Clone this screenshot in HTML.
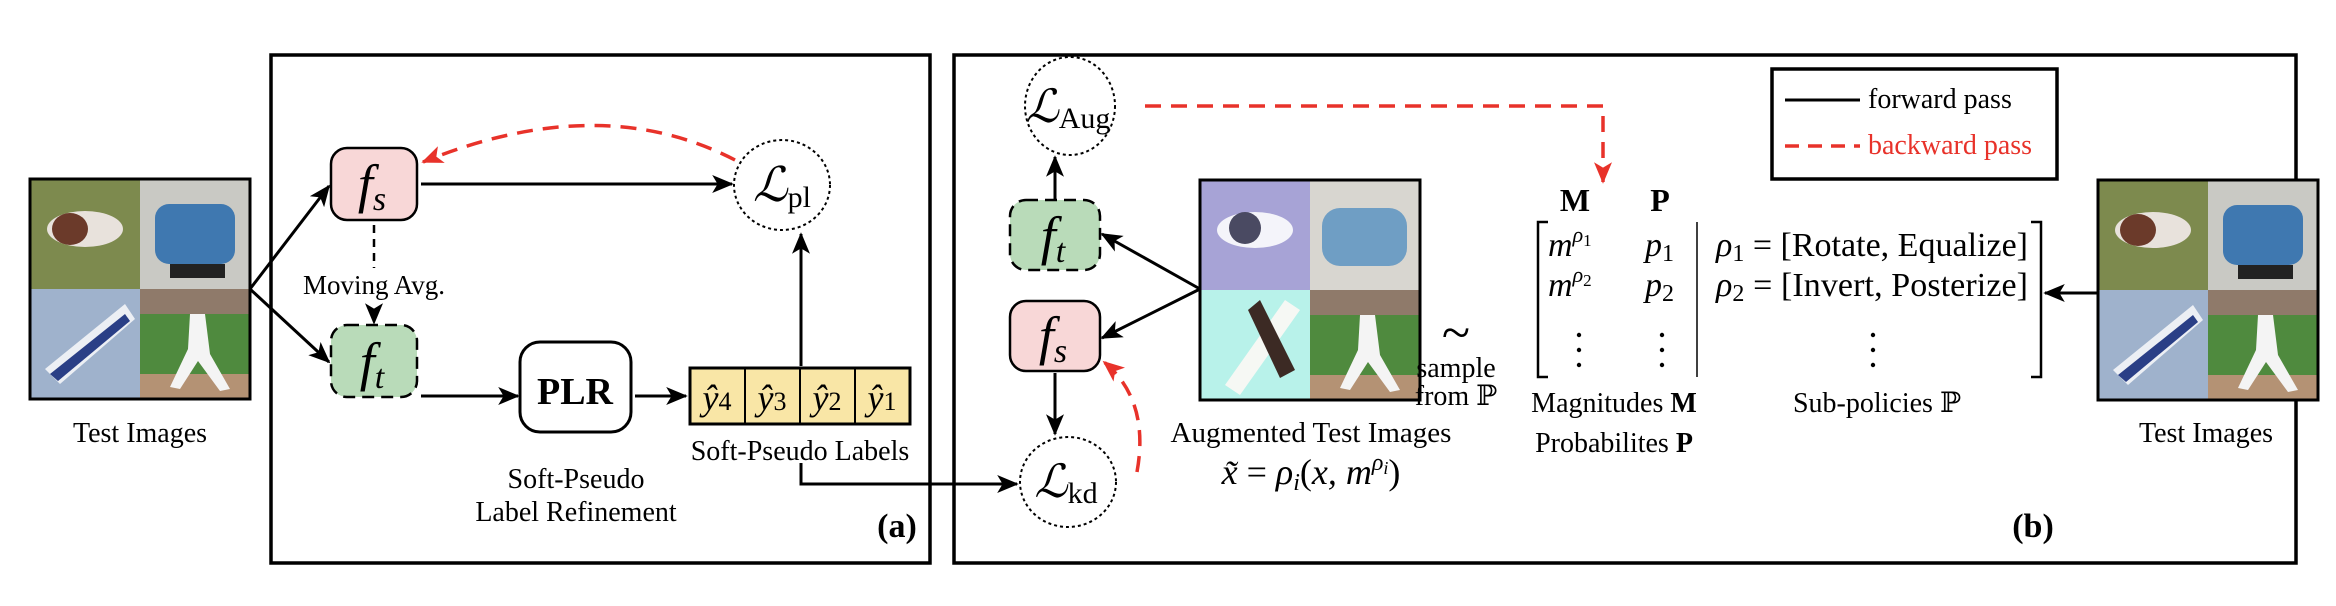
<!DOCTYPE html>
<html><head><meta charset="utf-8"><style>
html,body{margin:0;padding:0;background:#fff}
svg{display:block}
text{font-family:"Liberation Serif","DejaVu Serif",serif;fill:#000}
.it{font-style:italic}
</style></head><body>
<svg width="2336" height="606" viewBox="0 0 2336 606" xmlns="http://www.w3.org/2000/svg">
<defs>
<marker id="a" viewBox="0 0 12 10" refX="11" refY="5" markerWidth="22" markerHeight="18" orient="auto" markerUnits="userSpaceOnUse"><path d="M0,0 L12,5 L0,10 L3,5 Z" fill="#000"/></marker>
<marker id="ar" viewBox="0 0 12 10" refX="11" refY="5" markerWidth="22" markerHeight="18" orient="auto" markerUnits="userSpaceOnUse"><path d="M0,0 L12,5 L0,10 L3,5 Z" fill="#e8322a"/></marker>
<g id="photo">
<rect x="0" y="0" width="110" height="110" fill="#7d8a4e"/>
<ellipse cx="55" cy="50" rx="38" ry="18" fill="#e8e2dc"/><ellipse cx="40" cy="50" rx="18" ry="16" fill="#6b3a2a"/>
<rect x="110" y="0" width="110" height="110" fill="#c9c9c4"/>
<rect x="125" y="25" width="80" height="60" rx="14" fill="#3f78b0"/><rect x="140" y="85" width="55" height="14" fill="#222"/>
<rect x="0" y="110" width="110" height="110" fill="#9fb2cc"/>
<path d="M15,190 L95,125 L105,140 L30,205 Z" fill="#eceff4"/><path d="M20,195 L95,135 L100,142 L28,202 Z" fill="#2a3f86"/>
<rect x="110" y="110" width="110" height="110" fill="#4f8a3e"/><rect x="110" y="110" width="110" height="25" fill="#8f7a6a"/><rect x="110" y="195" width="110" height="25" fill="#b49274"/>
<path d="M160,135 L175,135 L180,175 L200,210 L190,212 L168,182 L150,210 L140,208 L158,170 Z" fill="#f4f4f4"/>
<rect x="0" y="0" width="220" height="220" fill="none" stroke="#000" stroke-width="3"/>
</g>
<g id="aug">
<rect x="0" y="0" width="110" height="110" fill="#a7a3d6"/>
<ellipse cx="55" cy="50" rx="38" ry="18" fill="#f4f4fa"/><ellipse cx="45" cy="48" rx="16" ry="16" fill="#4a4a62"/>
<rect x="110" y="0" width="110" height="110" fill="#d8d6d0"/>
<rect x="122" y="28" width="85" height="58" rx="18" fill="#5590c0" opacity="0.8"/>
<rect x="0" y="110" width="110" height="110" fill="#b8f2ea"/>
<path d="M25,205 L85,120 L100,130 L40,215 Z" fill="#f6f8f4"/><path d="M60,120 L95,190 L80,198 L48,130 Z" fill="#3c2a24"/>
<rect x="110" y="110" width="110" height="110" fill="#4f8a3e"/><rect x="110" y="110" width="110" height="25" fill="#8f7a6a"/><rect x="110" y="195" width="110" height="25" fill="#b49274"/>
<path d="M160,135 L175,135 L180,175 L200,210 L190,212 L168,182 L150,210 L140,208 L158,170 Z" fill="#f4f4f4"/>
<rect x="0" y="0" width="220" height="220" fill="none" stroke="#000" stroke-width="3"/>
</g>
</defs>

<use href="#photo" x="30" y="179"/>
<text x="140" y="442" font-size="28" text-anchor="middle">Test Images</text>

<rect x="271" y="55" width="659" height="508" fill="none" stroke="#000" stroke-width="3.5"/>
<rect x="331" y="148" width="86" height="72" rx="16" fill="#f8d7d7" stroke="#000" stroke-width="2.5"/>
<text x="372" y="202" font-size="54" class="it" text-anchor="middle">f<tspan font-size="34" dy="8">s</tspan></text>
<rect x="331" y="325" width="86" height="72" rx="16" fill="#b9dbb9" stroke="#000" stroke-width="2.5" stroke-dasharray="12,7"/>
<text x="372" y="380" font-size="54" class="it" text-anchor="middle">f<tspan font-size="34" dy="8">t</tspan></text>
<line x1="374" y1="225" x2="374" y2="268" stroke="#000" stroke-width="2.5" stroke-dasharray="8,6"/>
<text x="374" y="294" font-size="27" text-anchor="middle">Moving Avg.</text>
<line x1="374" y1="310" x2="374" y2="323" stroke="#000" stroke-width="2.5" stroke-dasharray="8,6" marker-end="url(#a)"/>
<ellipse cx="782" cy="185" rx="48" ry="45" fill="#fff" stroke="#000" stroke-width="2" stroke-dasharray="3,3"/>
<text x="782" y="201" font-size="48" class="it" text-anchor="middle">ℒ<tspan font-size="30" font-style="normal" dy="6">pl</tspan></text>
<line x1="421" y1="184" x2="732" y2="184" stroke="#000" stroke-width="3" marker-end="url(#a)"/>
<path d="M735,160 Q600,90 423,162" fill="none" stroke="#e8322a" stroke-width="3.5" stroke-dasharray="16,10" marker-end="url(#ar)"/>
<rect x="520" y="342" width="111" height="90" rx="20" fill="#fff" stroke="#000" stroke-width="3"/>
<text x="575" y="404" font-size="38" font-weight="bold" text-anchor="middle">PLR</text>
<line x1="421" y1="396" x2="518" y2="396" stroke="#000" stroke-width="3" marker-end="url(#a)"/>
<line x1="635" y1="396" x2="686" y2="396" stroke="#000" stroke-width="3" marker-end="url(#a)"/>
<rect x="690" y="368" width="220" height="56" fill="#f9e6a6" stroke="#000" stroke-width="3"/>
<line x1="745" y1="368" x2="745" y2="424" stroke="#000" stroke-width="2"/>
<line x1="800" y1="368" x2="800" y2="424" stroke="#000" stroke-width="2"/>
<line x1="855" y1="368" x2="855" y2="424" stroke="#000" stroke-width="2"/>
<g font-size="36" class="it" text-anchor="middle">
<text x="717" y="410">ŷ<tspan font-size="26" font-style="normal">4</tspan></text>
<text x="772" y="410">ŷ<tspan font-size="26" font-style="normal">3</tspan></text>
<text x="827" y="410">ŷ<tspan font-size="26" font-style="normal">2</tspan></text>
<text x="882" y="410">ŷ<tspan font-size="26" font-style="normal">1</tspan></text>
</g>
<line x1="801" y1="366" x2="801" y2="234" stroke="#000" stroke-width="3" marker-end="url(#a)"/>
<text x="800" y="460" font-size="28" text-anchor="middle">Soft-Pseudo Labels</text>
<text x="576" y="488" font-size="28" text-anchor="middle">Soft-Pseudo</text>
<text x="576" y="521" font-size="28" text-anchor="middle">Label Refinement</text>
<text x="897" y="537" font-size="34" font-weight="bold" text-anchor="middle">(a)</text>
<polyline points="801,463 801,484 1017,484" fill="none" stroke="#000" stroke-width="3" marker-end="url(#a)"/>

<line x1="250" y1="289" x2="329" y2="186" stroke="#000" stroke-width="3" marker-end="url(#a)"/>
<line x1="250" y1="289" x2="329" y2="362" stroke="#000" stroke-width="3" marker-end="url(#a)"/>

<rect x="954" y="55" width="1342" height="508" fill="none" stroke="#000" stroke-width="3.5"/>
<ellipse cx="1070" cy="106" rx="45" ry="49" fill="#fff" stroke="#000" stroke-width="2" stroke-dasharray="3,3"/>
<text x="1068" y="122" font-size="46" class="it" text-anchor="middle">ℒ<tspan font-size="30" font-style="normal" dy="6">Aug</tspan></text>
<rect x="1010" y="200" width="90" height="70" rx="16" fill="#b9dbb9" stroke="#000" stroke-width="2.5" stroke-dasharray="12,7"/>
<text x="1053" y="254" font-size="54" class="it" text-anchor="middle">f<tspan font-size="34" dy="8">t</tspan></text>
<rect x="1010" y="301" width="90" height="70" rx="16" fill="#f8d7d7" stroke="#000" stroke-width="2.5"/>
<text x="1053" y="354" font-size="54" class="it" text-anchor="middle">f<tspan font-size="34" dy="8">s</tspan></text>
<ellipse cx="1068" cy="482" rx="48" ry="45" fill="#fff" stroke="#000" stroke-width="2" stroke-dasharray="3,3"/>
<text x="1066" y="497" font-size="46" class="it" text-anchor="middle">ℒ<tspan font-size="30" font-style="normal" dy="6">kd</tspan></text>
<line x1="1055" y1="199" x2="1055" y2="157" stroke="#000" stroke-width="3" marker-end="url(#a)"/>
<line x1="1055" y1="373" x2="1055" y2="434" stroke="#000" stroke-width="3" marker-end="url(#a)"/>
<use href="#aug" x="1200" y="180"/>
<line x1="1200" y1="289" x2="1102" y2="234" stroke="#000" stroke-width="3" marker-end="url(#a)"/>
<line x1="1200" y1="289" x2="1102" y2="338" stroke="#000" stroke-width="3" marker-end="url(#a)"/>
<path d="M1137,472 Q1150,400 1104,362" fill="none" stroke="#e8322a" stroke-width="3.5" stroke-dasharray="16,10" marker-end="url(#ar)"/>
<polyline points="1145,106 1603,106 1603,182" fill="none" stroke="#e8322a" stroke-width="3.5" stroke-dasharray="16,10" marker-end="url(#ar)"/>
<text x="1311" y="442" font-size="29" text-anchor="middle">Augmented Test Images</text>
<text x="1311" y="484" font-size="36" class="it" text-anchor="middle">x̃ <tspan font-style="normal">=</tspan> ρ<tspan font-size="24" dy="6">i</tspan><tspan dy="-6" font-style="normal">(</tspan>x, m<tspan font-size="24" dy="-14">ρ</tspan><tspan font-size="18" dy="4">i</tspan><tspan dy="10" font-style="normal">)</tspan></text>
<text x="1456" y="350" font-size="52" text-anchor="middle">~</text>
<text x="1456" y="377" font-size="28" text-anchor="middle">sample</text>
<text x="1456" y="405" font-size="28" text-anchor="middle">from ℙ</text>

<text x="1575" y="211" font-size="32" font-weight="bold" text-anchor="middle">M</text>
<text x="1660" y="211" font-size="32" font-weight="bold" text-anchor="middle">P</text>
<polyline points="1548,222 1538,222 1538,377 1548,377" fill="none" stroke="#000" stroke-width="2.5"/>
<polyline points="2031,222 2041,222 2041,377 2031,377" fill="none" stroke="#000" stroke-width="2.5"/>
<line x1="1697" y1="222" x2="1697" y2="377" stroke="#000" stroke-width="1.5"/>
<g font-size="34">
<text x="1548" y="256" class="it">m<tspan font-size="22" dy="-14">ρ</tspan><tspan font-size="17" dy="4" font-style="normal">1</tspan></text>
<text x="1548" y="296" class="it">m<tspan font-size="22" dy="-14">ρ</tspan><tspan font-size="17" dy="4" font-style="normal">2</tspan></text>
<text x="1645" y="256" class="it">p<tspan font-size="24" dy="5" font-style="normal">1</tspan></text>
<text x="1645" y="296" class="it">p<tspan font-size="24" dy="5" font-style="normal">2</tspan></text>
<text x="1716" y="256" textLength="312"><tspan class="it">ρ</tspan><tspan font-size="24" dy="5">1</tspan><tspan dy="-5"> = [Rotate, Equalize]</tspan></text>
<text x="1716" y="296" textLength="312"><tspan class="it">ρ</tspan><tspan font-size="24" dy="5">2</tspan><tspan dy="-5"> = [Invert, Posterize]</tspan></text>
</g>
<g fill="#000">
<circle cx="1579" cy="335" r="2.2"/><circle cx="1579" cy="350" r="2.2"/><circle cx="1579" cy="365" r="2.2"/>
<circle cx="1662" cy="335" r="2.2"/><circle cx="1662" cy="350" r="2.2"/><circle cx="1662" cy="365" r="2.2"/>
<circle cx="1873" cy="335" r="2.2"/><circle cx="1873" cy="350" r="2.2"/><circle cx="1873" cy="365" r="2.2"/>
</g>
<text x="1614" y="412" font-size="28" text-anchor="middle">Magnitudes <tspan font-weight="bold">M</tspan></text>
<text x="1614" y="452" font-size="28" text-anchor="middle">Probabilites <tspan font-weight="bold">P</tspan></text>
<text x="1877" y="412" font-size="28" text-anchor="middle">Sub-policies ℙ</text>

<rect x="1772" y="69" width="285" height="110" fill="#fff" stroke="#000" stroke-width="3.5"/>
<line x1="1785" y1="100" x2="1860" y2="100" stroke="#000" stroke-width="3"/>
<text x="1868" y="108" font-size="28">forward pass</text>
<line x1="1785" y1="146" x2="1860" y2="146" stroke="#e8322a" stroke-width="3.5" stroke-dasharray="14,9"/>
<text x="1868" y="154" font-size="28" style="fill:#e8322a">backward pass</text>

<text x="2033" y="537" font-size="34" font-weight="bold" text-anchor="middle">(b)</text>

<use href="#photo" x="2098" y="180"/>
<line x1="2097" y1="293" x2="2045" y2="293" stroke="#000" stroke-width="3" marker-end="url(#a)"/>
<text x="2206" y="442" font-size="28" text-anchor="middle">Test Images</text>
</svg>
</body></html>
